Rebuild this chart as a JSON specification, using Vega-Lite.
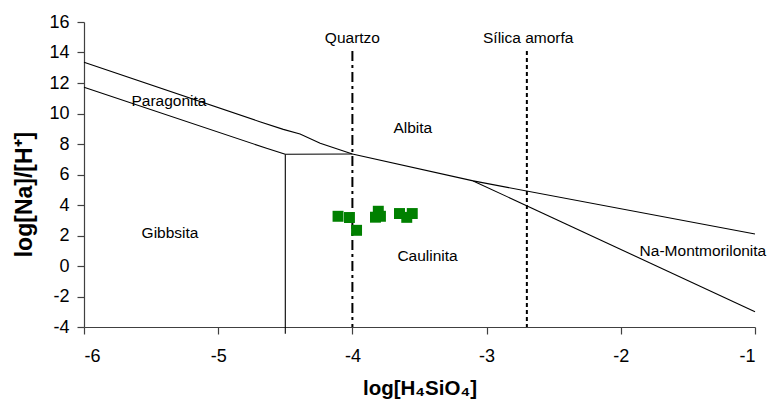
{
  "$schema": "https://vega.github.io/schema/vega-lite/v6.json",
  "autosize": "none",
  "width": 671,
  "height": 305,
  "padding": {"left": 84, "top": 22, "right": 18, "bottom": 83},
  "background": "white",
  "config": {
    "view": {"stroke": null},
    "font": "Liberation Sans",
    "axis": {"grid": false, "domainColor": "#404040", "tickColor": "#404040", "labelColor": "black", "titleColor": "black", "labelFont": "Liberation Sans", "titleFont": "Liberation Sans", "labelOverlap": false}
  },
  "encoding": {
    "x": {"field": "x", "type": "quantitative",
      "scale": {"domain": [-6, -1], "nice": false, "zero": false},
      "axis": {"values": [-6, -5, -4, -3, -2, -1], "labelExpr": "toString(datum.value)", "labelFontSize": 18, "tickSize": 7, "labelPadding": 13, "domainWidth": 1.2, "tickWidth": 1.2,
        "title": "log[H₄SiO₄]", "titleFontSize": 20.5, "titleFontWeight": "bold", "titleBaseline": "middle", "titleX": 335.5, "titleY": 61}},
    "y": {"field": "y", "type": "quantitative",
      "scale": {"domain": [-4, 16], "nice": false, "zero": false},
      "axis": {"values": [-4, -2, 0, 2, 4, 6, 8, 10, 12, 14, 16], "labelExpr": "toString(datum.value)", "labelFontSize": 18, "tickSize": 7, "labelPadding": 8, "domainWidth": 1.2, "tickWidth": 1.2,
        "title": "log[Na]/[H⁺]", "titleFontSize": 23, "titleFontWeight": "bold", "titleAngle": -90, "titleBaseline": "middle", "titleX": -60, "titleY": 172}}
  },
  "layer": [
    {
      "data": {"values": [
        {"seg": "U", "o": 1, "x": -6, "y": 13.36},
        {"seg": "U", "o": 2, "x": -4.69, "y": 9.46},
        {"seg": "U", "o": 3, "x": -4.515, "y": 8.96},
        {"seg": "U", "o": 4, "x": -4.39, "y": 8.66},
        {"seg": "U", "o": 5, "x": -4.24, "y": 8.05},
        {"seg": "U", "o": 6, "x": -4, "y": 7.34},
        {"seg": "U", "o": 7, "x": -3.1, "y": 5.58},
        {"seg": "U", "o": 8, "x": -1, "y": 2.1},
        {"seg": "L", "o": 1, "x": -6, "y": 11.72},
        {"seg": "L", "o": 2, "x": -4.64, "y": 7.72},
        {"seg": "L", "o": 3, "x": -4.5, "y": 7.33},
        {"seg": "H", "o": 1, "x": -4.5, "y": 7.33},
        {"seg": "H", "o": 2, "x": -4, "y": 7.34},
        {"seg": "V", "o": 1, "x": -4.5, "y": 7.33},
        {"seg": "V", "o": 2, "x": -4.5, "y": -4.45},
        {"seg": "B", "o": 1, "x": -3.1, "y": 5.58},
        {"seg": "B", "o": 2, "x": -1, "y": -3.0}
      ]},
      "mark": {"type": "line", "color": "black", "strokeWidth": 1.1, "clip": false},
      "encoding": {
        "detail": {"field": "seg"},
        "order": {"field": "o"}
      }
    },
    {
      "data": {"values": [{"x": -4, "y": 14.1, "y2": -4}]},
      "mark": {"type": "rule", "color": "black", "strokeWidth": 2, "strokeDash": [10, 4, 3, 4]},
      "encoding": {"y2": {"field": "y2"}}
    },
    {
      "data": {"values": [{"x": -2.7, "y": 14.1, "y2": -4}]},
      "mark": {"type": "rule", "color": "black", "strokeWidth": 2, "strokeDash": [4, 3]},
      "encoding": {"y2": {"field": "y2"}}
    },
    {
      "data": {"values": [
        {"x": -4.107, "y": 3.26},
        {"x": -4.022, "y": 3.18},
        {"x": -3.969, "y": 2.34},
        {"x": -3.807, "y": 3.59},
        {"x": -3.828, "y": 3.2},
        {"x": -3.791, "y": 3.26},
        {"x": -3.649, "y": 3.44},
        {"x": -3.595, "y": 3.19},
        {"x": -3.554, "y": 3.44}
      ]},
      "mark": {"type": "point", "shape": "square", "filled": true, "color": "#008000", "opacity": 1, "size": 120},
      "encoding": {}
    },
    {
      "data": {"values": [
        {"x": -4.0, "y": 14.95, "t": "Quartzo"},
        {"x": -2.69, "y": 14.95, "t": "Sílica amorfa"},
        {"x": -3.55, "y": 9.05, "t": "Albita"},
        {"x": -5.367, "y": 10.84, "t": "Paragonita"},
        {"x": -5.359, "y": 2.14, "t": "Gibbsita"},
        {"x": -3.44, "y": 0.66, "t": "Caulinita"},
        {"x": -1.388, "y": 1.0, "t": "Na-Montmorilonita"}
      ]},
      "mark": {"type": "text", "fontSize": 15.5, "font": "Liberation Sans", "color": "black", "align": "center", "baseline": "middle", "clip": false},
      "encoding": {"text": {"field": "t"}}
    }
  ]
}
